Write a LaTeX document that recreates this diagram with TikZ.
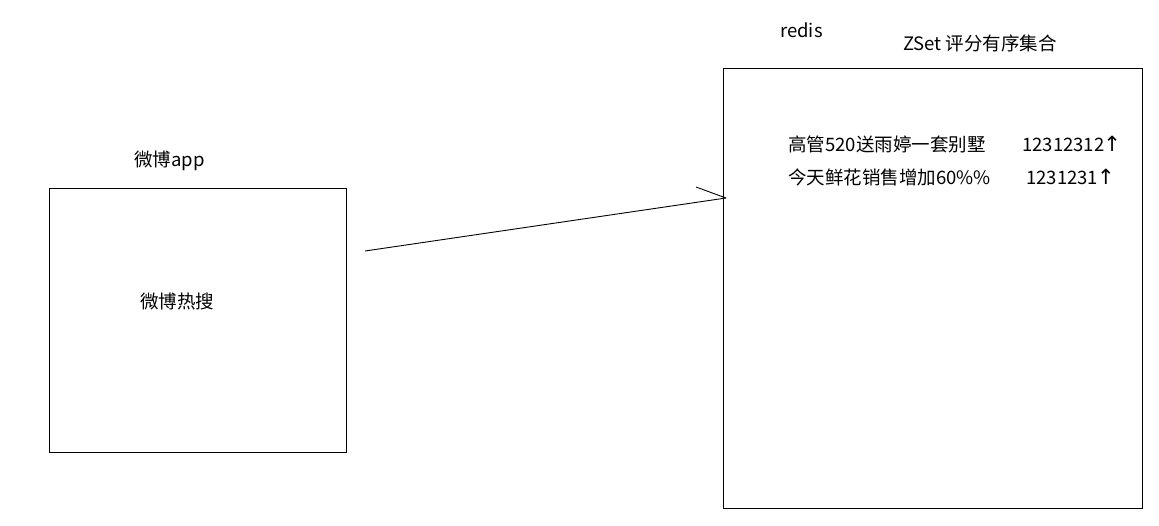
\documentclass[tikz,border=0pt]{standalone}
\usepackage{fontspec}
\setmainfont{Noto Sans CJK SC}
\newfontfamily\arrowfont{DejaVu Sans}
\newcommand{\uparr}{{\arrowfont\fontsize{21}{22}\selectfont ↑}}
\begin{document}
\begin{tikzpicture}[x=1pt,y=-1pt,
  box/.style={draw=black,line width=1pt},
  lbl/.style={anchor=west,inner sep=0pt,font=\fontsize{18.5}{22}\selectfont,text=black},
  conn/.style={draw=black,line width=0.9pt}]
\useasboundingbox[fill=white] (0,0) rectangle (1159,525);
% boxes
\node[box,minimum width=297pt,minimum height=264pt,inner sep=0pt] (app) at (197.5,320) {};
\node[box,minimum width=419pt,minimum height=440pt,inner sep=0pt] (redis) at (932.5,288) {};
% labels
\node[lbl] (appt) at (134,161) {微博app};
\node[lbl] (hot) at (140,301) {微博热搜};
\node[lbl] (redist) at (780,30) {redis};
\node[lbl] (zset) at (903,43) {ZSet 评分有序集合};
\node[lbl] (r1) at (788,144) {高管520送雨婷一套别墅};
\node[lbl] (n1) at (1022,144) {12312312\kern-1pt\uparr};
\node[lbl] (r2) at (788,177) {今天鲜花销售增加60\%\%};
\node[lbl] (n2) at (1026,177) {1231231\kern-1pt\uparr};
% connector
\coordinate (s) at (365,251);
\coordinate (e) at (726,198);
\coordinate (b) at (696,187);
\draw[conn] (s) -- (e);
\draw[conn] (e) -- (b);
\end{tikzpicture}
\end{document}
